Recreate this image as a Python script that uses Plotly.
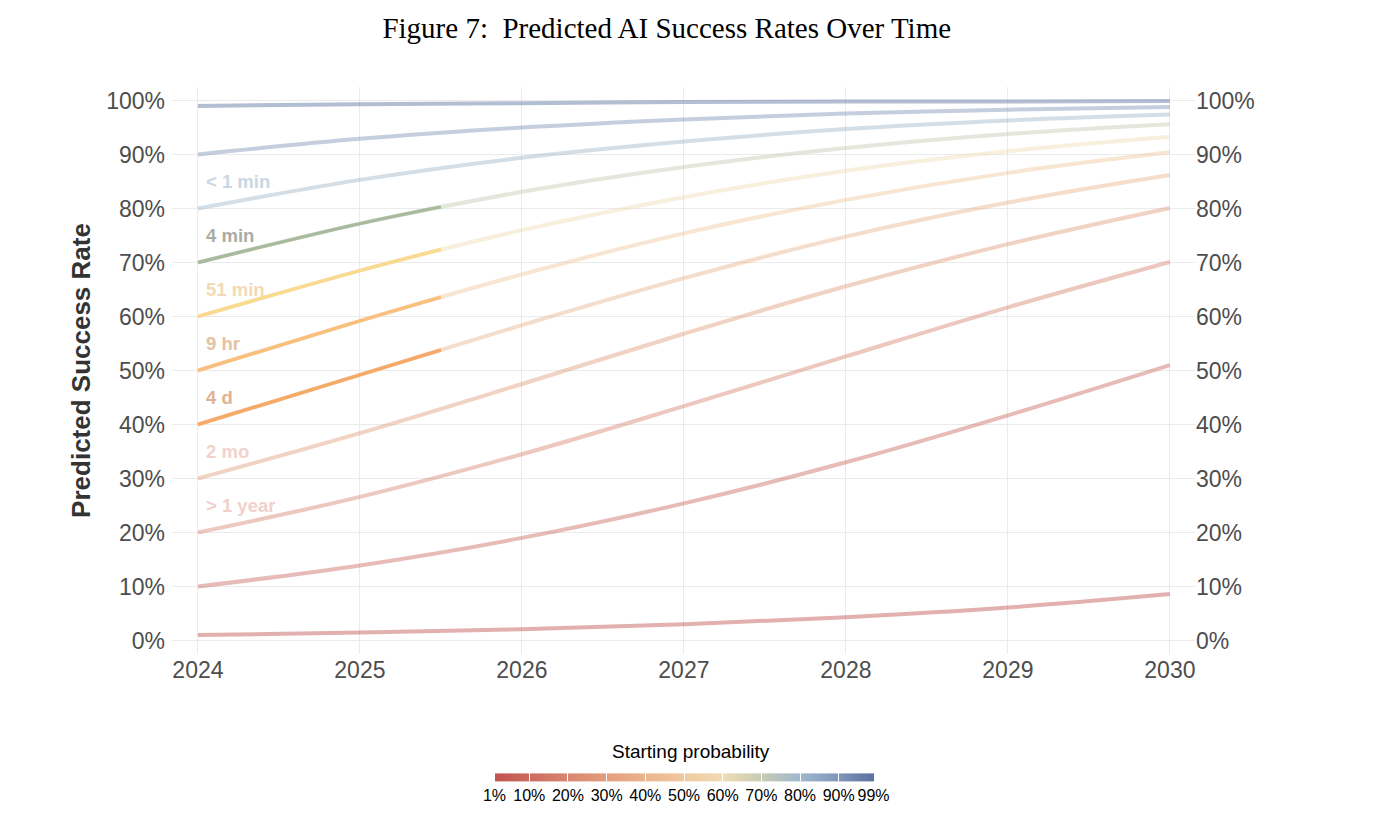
import plotly.graph_objects as go

# years on the x axis
years = [2024, 2025, 2026, 2027, 2028, 2029, 2030]

# predicted success rate (%), one list per starting probability
start_probs = [1, 10, 20, 30, 40, 50, 60, 70, 80, 90, 99]
p01 = [1.0, 1.5, 2.1, 3.0, 4.3, 6.1, 8.6]
p10 = [10.0, 13.9, 19.0, 25.4, 33.0, 41.7, 51.0]
p20 = [20.0, 26.6, 34.5, 43.4, 52.6, 61.7, 70.1]
p30 = [30.0, 38.4, 47.5, 56.8, 65.6, 73.4, 80.1]
p40 = [40.0, 49.2, 58.4, 67.1, 74.8, 81.1, 86.2]
p50 = [50.0, 59.2, 67.8, 75.4, 81.6, 86.6, 90.4]
p60 = [60.0, 68.5, 76.0, 82.1, 87.0, 90.6, 93.3]
p70 = [70.0, 77.2, 83.1, 87.7, 91.2, 93.8, 95.6]
p80 = [80.0, 85.3, 89.4, 92.4, 94.7, 96.3, 97.4]
p90 = [90.0, 92.9, 95.0, 96.5, 97.6, 98.3, 98.8]
p99 = [99.0, 99.3, 99.5, 99.7, 99.8, 99.8, 99.9]
series = [p01, p10, p20, p30, p40, p50, p60, p70, p80, p90, p99]

# highlighted stretch (2024 to mid-2025)
hl_years = [2024, 2025, 2025.5]
hl40 = [40.0, 49.2, 53.8]
hl50 = [50.0, 59.2, 63.6]
hl60 = [60.0, 68.5, 72.4]
hl70 = [70.0, 77.2, 80.3]

# task length labels
label_text = ["< 1 min", "4 min", "51 min", "9 hr", "4 d", "2 mo", "> 1 year"]
label_y = [85, 75, 65, 55, 45, 35, 25]

y_ticks = [0, 10, 20, 30, 40, 50, 60, 70, 80, 90, 100]
y_labels = [f"{v}%" for v in y_ticks]
cbar_labels = [f"{v}%" for v in start_probs]

# palette (red -> cream -> blue)
palette = ["#c0534f", "#cc6b62", "#d98670", "#e29e7e", "#ebb58e", "#f0c99e",
           "#f0dcb4", "#c7cbb5", "#9fb8cc", "#7f95b8", "#5a70a0"]
hl_colors = {40: "#f5a862", 50: "#f8bf78", 60: "#fad98a", 70: "#a6b99c"}
label_colors = ["#c9d7e4", "#a9aca2", "#f2dab4", "#e4c2a2", "#dfb291", "#f1d3cc", "#f1d0cc"]

L, R, T, B = 164, 197, 79, 175
PW, PH = 1384 - L - R, 821 - T - B


def px_x(px):
    return (px - L) / PW


def px_y(py):
    return (821 - B - py) / PH


fig = go.Figure()

# faint full curves
for prob, vals, col in zip(start_probs, series, palette):
    fig.add_trace(go.Scatter(
        x=years, y=vals, mode="lines",
        line=dict(color=col, width=4, shape="spline"),
        opacity=0.45, showlegend=False, hoverinfo="skip"
    ))

# highlighted stretches
for prob, vals in [(40, hl40), (50, hl50), (60, hl60), (70, hl70)]:
    fig.add_trace(go.Scatter(
        x=hl_years, y=vals, mode="lines",
        line=dict(color=hl_colors[prob], width=3.5, shape="spline"),
        opacity=0.95, showlegend=False, hoverinfo="skip"
    ))

# dummy trace only for the colour bar
colorscale = [[(p - 1) / 98, c] for p, c in zip(start_probs, palette)]
fig.add_trace(go.Scatter(
    x=[2024, 2030], y=[-50, -50], mode="markers", yaxis="y2",
    marker=dict(
        color=[1, 99], colorscale=colorscale, cmin=1, cmax=99, size=1,
        showscale=True,
        colorbar=dict(
            orientation="h", xref="paper", yref="paper",
            x=px_x(676), xanchor="center", y=px_y(785), yanchor="middle",
            lenmode="pixels", len=399, thickness=8,
            outlinewidth=0,
            tickvals=start_probs, ticktext=cbar_labels, tickangle=0,
            ticks="inside", tickcolor="white", ticklen=8, tickwidth=1,
            tickfont=dict(size=16, color="black", family="Liberation Sans"),
        ),
    ),
    showlegend=False, hoverinfo="skip"
))

fig.add_annotation(
    xref="paper", yref="paper", x=px_x(683), y=px_y(743),
    text="Starting probability", showarrow=False,
    xanchor="center", yanchor="middle",
    font=dict(size=19, color="black", family="Liberation Sans")
)

for txt, yv, col in zip(label_text, label_y, label_colors):
    fig.add_annotation(
        x=2024.035, y=yv, text=f"<b>{txt}</b>", showarrow=False,
        xanchor="left", yanchor="middle",
        font=dict(size=18.5, color=col, family="Liberation Sans")
    )

tick_font = dict(size=23, color="#4d4d4d", family="Liberation Sans")
fig.update_layout(
    width=1384, height=821,
    margin=dict(l=L, r=R, t=T, b=B, autoexpand=False),
    paper_bgcolor="white", plot_bgcolor="white",
    title=dict(text="Figure 7:  Predicted AI Success Rates Over Time",
               x=0.476, xanchor="center", xref="container",
               y=0.976, yanchor="middle",
               font=dict(size=29, color="black", family="Liberation Serif")),
    xaxis=dict(
        range=[2023.84, 2030.155], tickvals=years, ticktext=[str(y) for y in years],
        showgrid=True, gridcolor="#ebebeb", gridwidth=1, zeroline=False,
        showline=False, ticks="", tickfont=tick_font
    ),
    yaxis=dict(
        range=[-2.5, 102.5], tickvals=y_ticks, ticktext=y_labels,
        showgrid=True, gridcolor="#ebebeb", gridwidth=1, zeroline=False,
        showline=False, ticks="", tickfont=tick_font, ticklabelstandoff=6,
        title=dict(text="<b>Predicted Success Rate</b>", standoff=8,
                   font=dict(size=26, color="#333333", family="Liberation Sans"))
    ),
    yaxis2=dict(
        range=[-2.5, 102.5], tickvals=y_ticks, ticktext=y_labels,
        overlaying="y", side="right", showgrid=False, zeroline=False,
        showline=False, ticks="", tickfont=tick_font
    ),
)

fig.write_html("out.html")
